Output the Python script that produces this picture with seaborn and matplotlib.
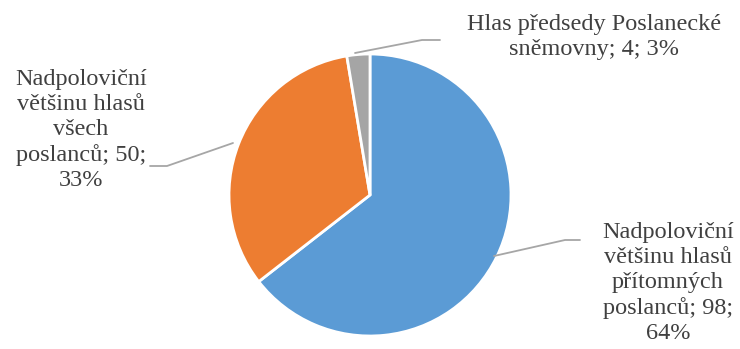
import matplotlib
matplotlib.use("Agg")
import matplotlib.pyplot as plt
import seaborn as sns

sns.set_theme(style="white")
plt.rcParams['font.family'] = ['Liberation Serif', 'DejaVu Serif']

categories = ["Nadpoloviční většinu hlasů přítomných poslanců",
              "Nadpoloviční většinu hlasů všech poslanců",
              "Hlas předsedy Poslanecké sněmovny"]
values = [98, 50, 4]
label_lines = [
    ["Nadpoloviční", "většinu hlasů", "přítomných", "poslanců; {v};", "{p}%"],
    ["Nadpoloviční", "většinu hlasů", "všech", "poslanců; {v};", "{p}%"],
    ["Hlas předsedy Poslanecké", "sněmovny; {v}; {p}%"],
]
colors = ["#5B9BD5", "#ED7D31", "#A5A5A5"]

total = sum(values)

fig = plt.figure(figsize=(7.40, 3.49), dpi=100)
ax = fig.add_axes([0, 0, 1, 1])

ax.pie(values, colors=colors, startangle=90, counterclock=False,
       center=(370, 154), radius=141,
       wedgeprops=dict(edgecolor='white', linewidth=2))

ax.set_xlim(0, 740)
ax.set_ylim(0, 349)
ax.set_aspect('equal')
ax.axis('off')

# label positions (center of text block) and leader lines
label_pos = [(668, 66), (81, 219), (594, 312)]
leaders = [
    [(494, 93), (565, 109), (580, 109)],
    [(233, 206), (167, 183), (150, 183)],
    [(355, 296), (422, 309), (440, 309)],
]
for i, v in enumerate(values):
    p = round(100 * v / total)
    txt = "\n".join(l.format(v=v, p=p) for l in label_lines[i])
    ax.text(label_pos[i][0], label_pos[i][1], txt, ha='center', va='center',
            multialignment='center',
            fontsize=17.5, color='#404040', linespacing=1.24)
    xs = [pt[0] for pt in leaders[i]]
    ys = [pt[1] for pt in leaders[i]]
    ax.plot(xs, ys, color='#A6A6A6', linewidth=1.3)

fig.savefig("out.png", dpi=100)
